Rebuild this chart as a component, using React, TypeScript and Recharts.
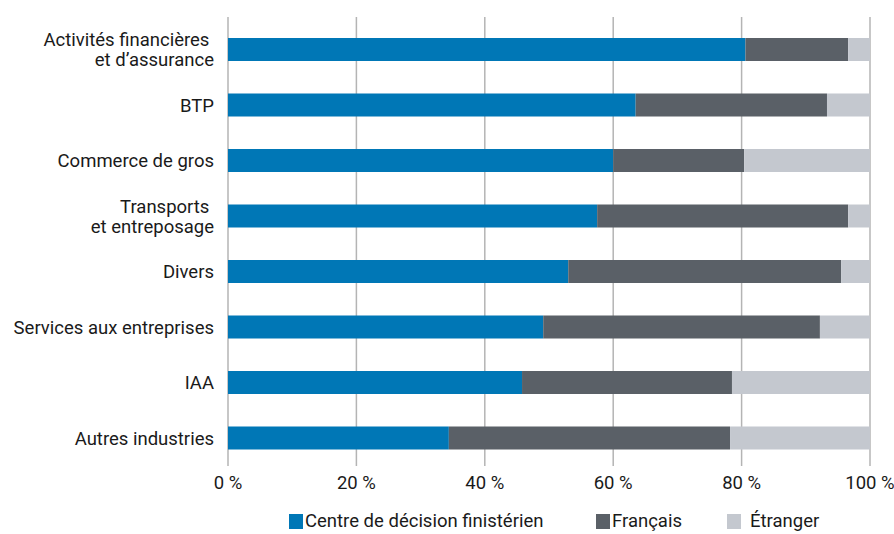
import { BarChart, Bar, XAxis, YAxis, CartesianGrid } from "recharts";

const categories = [
  ["Activités financières ", "et d’assurance"],
  ["BTP"],
  ["Commerce de gros"],
  ["Transports ", "et entreposage"],
  ["Divers"],
  ["Services aux entreprises"],
  ["IAA"],
  ["Autres industries"],
];
const centre = [80.6, 63.5, 60.0, 57.5, 53.0, 49.1, 45.8, 34.4];
const francais = [16.0, 29.8, 20.4, 39.1, 42.5, 43.1, 32.7, 43.8];
const etranger = [3.4, 6.7, 19.6, 3.4, 4.5, 7.8, 21.5, 21.8];
const xTicks = [0, 20, 40, 60, 80, 100];

const SERIES = [
  { key: "centre", name: "Centre de décision finistérien", color: "#0077b6", left: 289 },
  { key: "francais", name: "Français", color: "#5a6067", left: 596 },
  { key: "etranger", name: "Étranger", color: "#c4c8cf", left: 727, gap: 9 },
];

const data = categories.map((lines, i) => ({
  name: lines.join("|"),
  centre: centre[i],
  francais: francais[i],
  etranger: etranger[i],
}));

const FONT = "Roboto, 'Noto Sans', sans-serif";
const FS = 18.5;

function CategoryTick(props: any) {
  const { y, payload } = props;
  const lines: string[] = String(payload.value).split("|");
  const start = -((lines.length - 1) * 20) / 2;
  return (
    <text x={214} y={y} textAnchor="end" fontSize={FS} fill="#1a1a1a" fontFamily={FONT} style={{ whiteSpace: "pre" }}>
      {lines.map((l, i) => (
        <tspan key={i} x={214} y={y + start + i * 20} dy="0.35em">
          {l}
        </tspan>
      ))}
    </text>
  );
}

export default function App() {
  return (
    <div style={{ position: "absolute", left: 0, top: 0, width: 894, height: 534, background: "#fff", overflow: "hidden" }}>
      <BarChart
        layout="vertical"
        width={894}
        height={534}
        data={data}
        margin={{ top: 17, right: 24, left: 0, bottom: 38 }}
        barSize={23}
      >
        <CartesianGrid horizontal={false} stroke="#b4b4b4" strokeWidth={1.5} />
        <XAxis
          type="number"
          domain={[0, 100]}
          ticks={xTicks}
          tickFormatter={(v) => `${v} %`}
          axisLine={false}
          tickLine={false}
          tickMargin={4}
          height={30}
          tick={{ fontSize: FS, fill: "#1a1a1a", fontFamily: FONT }}
          interval={0}
        />
        <YAxis
          type="category"
          dataKey="name"
          width={228}
          axisLine={false}
          tickLine={false}
          padding={{ top: 5, bottom: 0 }}
          tick={<CategoryTick />}
          interval={0}
        />
        {SERIES.map((s) => (
          <Bar key={s.key} dataKey={s.key} stackId="a" fill={s.color} isAnimationActive={false} />
        ))}
      </BarChart>
      {SERIES.map((s) => (
        <div
          key={s.key}
          style={{
            position: "absolute",
            left: s.left,
            top: 510,
            height: 22,
            display: "flex",
            alignItems: "center",
            fontFamily: FONT,
            fontSize: FS,
            lineHeight: "22px",
            color: "#1a1a1a",
            whiteSpace: "nowrap",
          }}
        >
          <span style={{ display: "inline-block", width: 14, height: 15, background: s.color, marginRight: s.gap ?? 2 }} />
          {s.name}
        </div>
      ))}
    </div>
  );
}
